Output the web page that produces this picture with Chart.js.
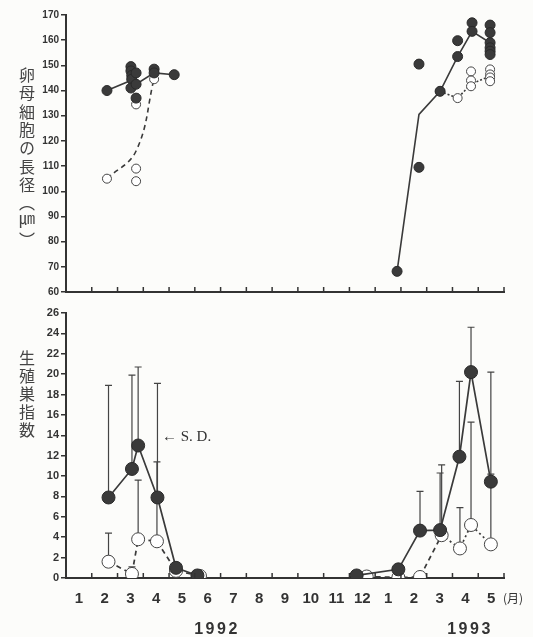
<!DOCTYPE html>
<html>
<head>
<meta charset="utf-8">
<script src="https://cdn.jsdelivr.net/npm/chart.js@4.4.1/dist/chart.umd.min.js"></script>
<style>
  html, body { margin: 0; padding: 0; background: #fcfcfa; }
  #wrap { position: relative; width: 533px; height: 637px; overflow: hidden; color: #333; font-family: "Liberation Sans", Arial, sans-serif; }
  canvas { position: absolute; left: 0; }
  #topChart { top: 0; }
  #bottomChart { top: 300px; }
  .vt { position: absolute; writing-mode: vertical-rl; text-orientation: mixed; font-family: "Noto Sans CJK JP", sans-serif; color: #444; line-height: 1; }
  .year { position: absolute; top: 620px; transform: translateX(-50%); font-weight: bold; font-size: 16px; letter-spacing: 2.5px; }
</style>
</head>
<body>
<div id="wrap">
  <canvas id="topChart" width="533" height="300"></canvas>
  <canvas id="bottomChart" width="533" height="337"></canvas>
  <div class="vt" style="left:19px; top:67px; font-size:16px; letter-spacing:2.3px;">卵母細胞の長径（㎛）</div>
  <div class="vt" style="left:19px; top:350px; font-size:16px; letter-spacing:2px;">生殖巣指数</div>
  <div style="position:absolute; left:162px; top:428px; font-family:'Liberation Serif',serif; font-size:15px; line-height:16px;">← S. D.</div>
  <div style="position:absolute; left:503px; top:591px; font-family:'Noto Sans CJK JP',sans-serif; font-size:12px; line-height:14px;">(月)</div>
  <div class="year" style="left:217px;">1992</div>
  <div class="year" style="left:470px;">1993</div>
</div>
<script>
  // x values are months counted from the start of Jan 1992
  const monthLabels = ['1', '2', '3', '4', '5', '6', '7', '8', '9', '10', '11', '12', '1', '2', '3', '4', '5'];

  // oocyte long diameter (um) - individual fish
  const oocyteFilledX = [1.59, 2.52, 2.52, 2.55, 2.55, 2.52, 2.72, 2.72, 2.72, 3.42, 3.42, 4.2,
    12.85, 13.7, 13.7, 14.52, 15.2, 15.2, 15.76, 15.76, 16.46, 16.46, 16.46, 16.46, 16.46, 16.46];
  const oocyteFilledY = [140, 149.5, 147.8, 146, 144.5, 141, 147, 142.5, 137, 148.5, 147, 146.3,
    68.2, 150.5, 109.5, 139.7, 153.5, 159.8, 166.9, 163.5, 166, 163, 159, 157, 155.6, 154.3];
  const oocyteOpenX = [1.59, 2.72, 2.72, 2.72, 3.42,
    14.52, 15.2, 15.72, 15.72, 15.72, 16.46, 16.46, 16.46, 16.46];
  const oocyteOpenY = [105, 109, 104, 134.5, 144.5,
    139.7, 137, 147.6, 144, 141.7, 148.4, 146.4, 145.2, 143.7];

  // oocyte mean lines
  const meanFilled92X = [1.59, 2.52, 2.72, 3.42, 4.2];
  const meanFilled92Y = [140, 144, 142.5, 147, 146.3];
  const meanFilled93X = [12.85, 13.7, 14.52, 15.2, 15.76, 16.46];
  const meanFilled93Y = [68.2, 130.5, 139.7, 153.5, 163.5, 159];
  const meanOpen92X = [1.59, 2.72, 3.42];
  const meanOpen92Y = [105, 116, 144.8];
  const meanOpen93X = [14.52, 15.2, 15.72, 16.46];
  const meanOpen93Y = [139.7, 137, 142.5, 145.8];

  // gonad index (mean and top of S.D. bar)
  const gsiFilled92X = [1.65, 2.56, 2.8, 3.55, 4.27, 5.1];
  const gsiFilled92Y = [7.9, 10.7, 13.0, 7.9, 1.0, 0.25];
  const gsiFilled92Sd = [18.9, 19.9, 20.7, 19.1, null, null];
  const gsiFilled93X = [11.28, 12.9, 13.74, 14.52, 15.27, 15.72, 16.49];
  const gsiFilled93Y = [0.25, 0.85, 4.65, 4.7, 11.9, 20.2, 9.45];
  const gsiFilled93Sd = [null, null, 8.5, 10.3, 19.3, 24.6, 20.2];
  const gsiOpen92X = [1.65, 2.56, 2.8, 3.53, 4.27, 5.2];
  const gsiOpen92Y = [1.6, 0.4, 3.8, 3.6, 0.7, 0.2];
  const gsiOpen92Sd = [4.4, 1.1, 9.6, 11.4, null, null];
  const gsiOpen93X = [11.67, 12.9, 13.74, 14.58, 15.29, 15.72, 16.49];
  const gsiOpen93Y = [0.15, 0.05, 0.1, 4.2, 2.9, 5.2, 3.3];
  const gsiOpen93Sd = [null, null, null, 11.1, 6.9, 15.3, 10.2];

  const ink = '#333';
  const dark = '#3a3a3a';
  const pts = (xs, ys) => xs.map((x, i) => ({ x: x, y: ys[i] }));

  // x tick marks point up into the plot
  const inwardTicks = {
    id: 'inwardTicks',
    afterDraw(chart) {
      const { ctx, chartArea, scales } = chart;
      ctx.save();
      ctx.strokeStyle = ink;
      ctx.lineWidth = 1.5;
      for (let m = 1; m <= monthLabels.length; m++) {
        const px = scales.x.getPixelForValue(m);
        ctx.beginPath();
        ctx.moveTo(px, chartArea.bottom);
        ctx.lineTo(px, chartArea.bottom - 5);
        ctx.stroke();
      }
      ctx.restore();
    }
  };

  // upward S.D. bars with a cap
  const sdBars = {
    id: 'sdBars',
    beforeDatasetsDraw(chart) {
      const { ctx, scales } = chart;
      ctx.save();
      ctx.strokeStyle = '#444';
      ctx.lineWidth = 1.2;
      chart.data.datasets.forEach((ds, di) => {
        if (!ds.sdTop) return;
        const meta = chart.getDatasetMeta(di);
        ds.sdTop.forEach((top, i) => {
          if (top == null) return;
          const p = meta.data[i];
          const yTop = scales.y.getPixelForValue(top);
          ctx.beginPath();
          ctx.moveTo(p.x, p.y);
          ctx.lineTo(p.x, yTop);
          ctx.moveTo(p.x - 3.5, yTop);
          ctx.lineTo(p.x + 3.5, yTop);
          ctx.stroke();
        });
      });
      ctx.restore();
    }
  };

  function xAxis(showLabels) {
    return {
      type: 'linear',
      min: 0,
      max: 17,
      afterBuildTicks: s => { s.ticks = monthLabels.map((_, i) => ({ value: i + 0.5 })); },
      afterFit: s => { s.height = showLabels ? 59 : 5; },
      ticks: {
        display: showLabels,
        autoSkip: false,
        maxRotation: 0,
        padding: 12,
        color: ink,
        font: { family: 'Liberation Sans', weight: 'bold', size: 15 },
        callback: (v, i) => monthLabels[i]
      },
      grid: { drawOnChartArea: false, drawTicks: false },
      border: { display: true, color: ink, width: 2 }
    };
  }

  function yAxis(min, max, step, size) {
    return {
      min: min,
      max: max,
      afterFit: s => { s.width = 66; },
      ticks: { stepSize: step, padding: 2, color: ink, font: { family: 'Liberation Sans', weight: 'bold', size: size } },
      grid: { drawOnChartArea: false, tickLength: 5, color: ink, lineWidth: 1.5 },
      border: { color: ink, width: 2 }
    };
  }

  const baseOptions = (pad, showLabels, yMin, yMax, step, size) => ({
    responsive: false,
    animation: false,
    layout: { padding: { top: pad, right: 29, left: 0, bottom: 0 } },
    plugins: { legend: { display: false }, tooltip: { enabled: false } },
    scales: { x: xAxis(showLabels), y: yAxis(yMin, yMax, step, size) }
  });

  const meanLine = (xs, ys, dash, tension) => ({
    data: pts(xs, ys), showLine: true, pointRadius: 0, borderColor: dark,
    borderWidth: 1.6, borderDash: dash, tension: tension || 0, order: 3
  });

  new Chart(document.getElementById('topChart'), {
    type: 'scatter',
    data: {
      datasets: [
        meanLine(meanFilled92X, meanFilled92Y, []),
        meanLine(meanFilled93X, meanFilled93Y, []),
        meanLine(meanOpen92X, meanOpen92Y, [5, 4], 0.4),
        meanLine(meanOpen93X, meanOpen93Y, [2, 2]),
        {
          data: pts(oocyteOpenX, oocyteOpenY), pointRadius: 4.5, borderWidth: 1,
          backgroundColor: '#fff', borderColor: '#444', order: 2
        },
        {
          data: pts(oocyteFilledX, oocyteFilledY), pointRadius: 5, borderWidth: 1,
          backgroundColor: dark, borderColor: '#2a2a2a', order: 1
        }
      ]
    },
    options: baseOptions(15, false, 60, 170, 10, 10),
    plugins: [inwardTicks]
  });

  const gsiSet = (xs, ys, sd, filled, order) => ({
    data: pts(xs, ys), sdTop: sd, showLine: true,
    pointRadius: 6.5, pointBorderWidth: 1,
    pointBackgroundColor: filled ? dark : '#fff', pointBorderColor: filled ? '#2a2a2a' : '#444',
    borderColor: dark, borderWidth: 1.7,
    borderDash: filled ? [] : [5, 4],
    segment: filled ? {} : { borderDash: c => (c.p0.parsed.x >= 14.5 ? [2, 3] : [5, 4]) },
    order: order
  });

  new Chart(document.getElementById('bottomChart'), {
    type: 'scatter',
    data: {
      datasets: [
        gsiSet(gsiOpen92X, gsiOpen92Y, gsiOpen92Sd, false, 2),
        gsiSet(gsiOpen93X, gsiOpen93Y, gsiOpen93Sd, false, 2),
        gsiSet(gsiFilled92X, gsiFilled92Y, gsiFilled92Sd, true, 1),
        gsiSet(gsiFilled93X, gsiFilled93Y, gsiFilled93Sd, true, 1)
      ]
    },
    options: baseOptions(13, true, 0, 26, 2, 11),
    plugins: [inwardTicks, sdBars]
  });
</script>
</body>
</html>
